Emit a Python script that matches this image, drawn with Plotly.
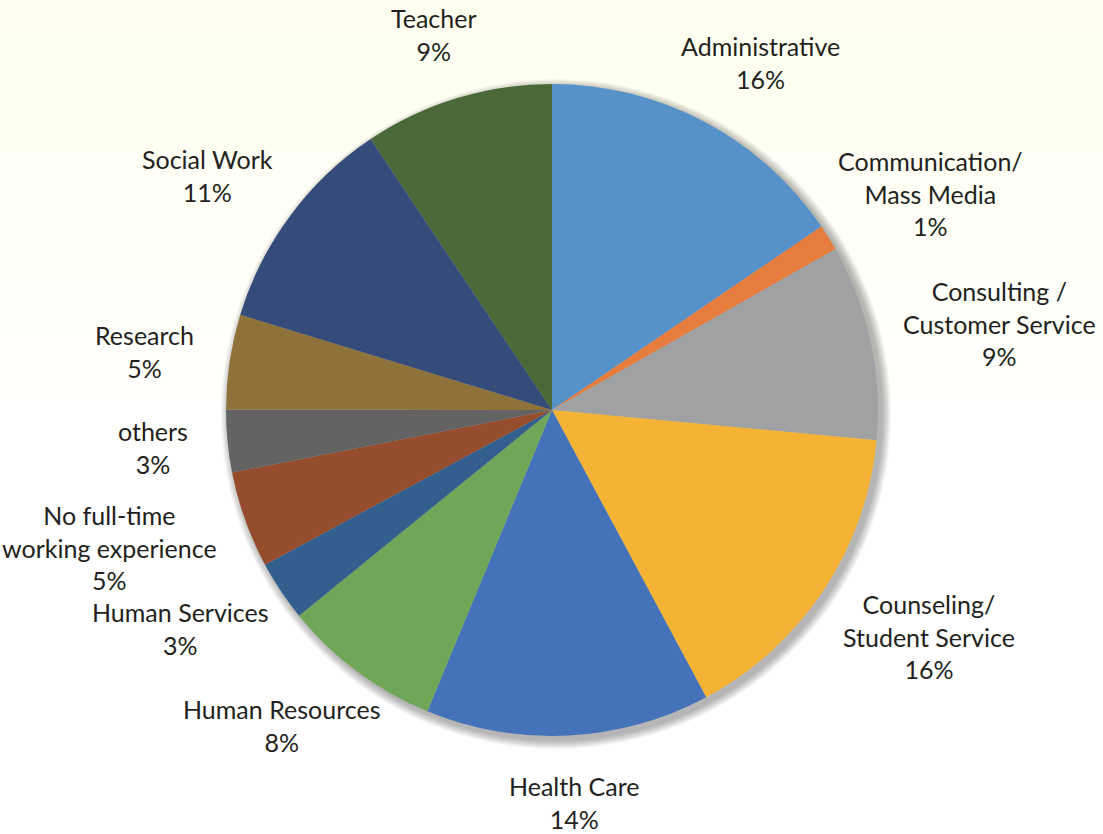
import math
import plotly.graph_objects as go

# ---- data ----
categories = ["Administrative", "Communication/<br>Mass Media", "Consulting /<br>Customer Service",
              "Counseling/<br>Student Service", "Health Care", "Human Resources", "Human Services",
              "No full-time<br>working experience", "others", "Research", "Social Work", "Teacher"]
values = [15.5, 1.3, 9.7, 15.7, 14.1, 7.9, 3.0, 4.8, 3.1, 4.7, 10.9, 9.4]
pct_labels = ["16%", "1%", "9%", "16%", "14%", "8%", "3%", "5%", "3%", "5%", "11%", "9%"]
colors = ["#5692C9", "#E67C3D", "#A0A1A3", "#F5B335", "#4473B9", "#70A658", "#335F8E",
          "#954D2E", "#636363", "#8E7239", "#354B7A", "#4A6838"]

# ---- layout constants ----
W, H = 1103, 834
CX, CY, R = 552, 410, 326
FONT = "Lato"
FS = 25
LINE_H = FS * 1.3

fig = go.Figure()
fig.add_trace(go.Pie(
    labels=[c.replace("<br>", " ") for c in categories],
    values=values,
    sort=False,
    direction="clockwise",
    rotation=0,
    textinfo="none",
    hoverinfo="label+percent",
    marker=dict(colors=colors, line=dict(width=0)),
    domain=dict(x=[(CX - R) / W, (CX + R) / W], y=[(H - CY - R) / H, (H - CY + R) / H]),
    showlegend=False,
))

shapes = []
# background gradient (cream at top fading to white)
steps = 30
for i in range(steps):
    t = i / steps
    g = int(240 + 15 * t)
    y0 = 1 - i * (0.55 / steps)
    y1 = 1 - (i + 1) * (0.55 / steps)
    shapes.append(dict(type="rect", xref="paper", yref="paper", x0=0, x1=1, y0=y1, y1=y0,
                       fillcolor=f"rgb(255,255,{g})", line=dict(width=0), layer="below"))

# soft shadow behind the pie
for k in range(1, 10):
    rr = R + k
    sx, sy = CX + 4, CY + 4
    shapes.append(dict(type="circle", xref="paper", yref="paper",
                       x0=(sx - rr) / W, x1=(sx + rr) / W,
                       y0=(H - sy - rr) / H, y1=(H - sy + rr) / H,
                       fillcolor="rgba(0,0,0,0.035)", line=dict(width=0), layer="below"))

# outside labels computed from slice mid-angles
annotations = []
total = sum(values)
cum = 0.0
GAP = 40
for cat, v, p in zip(categories, values, pct_labels):
    mid = (cum + v / 2) / total * 2 * math.pi
    cum += v
    s, c = math.sin(mid), math.cos(mid)
    lines = cat.split("<br>") + [p]
    w = max(len(l) for l in lines) * FS * 0.46
    h = (len(lines) - 1) * LINE_H + FS * 0.85
    px = CX + s * (R + GAP) + s * w / 2
    py = CY - c * (R + GAP) - c * h / 2
    annotations.append(dict(
        text=cat + "<br>" + p, x=px / W, y=(H - py) / H, xref="paper", yref="paper",
        xanchor="center", yanchor="middle", showarrow=False, align="center",
        font=dict(family=FONT, size=FS, color="#231F20"),
    ))

fig.update_layout(
    width=W, height=H,
    margin=dict(l=0, r=0, t=0, b=0),
    paper_bgcolor="#FFFFFF",
    plot_bgcolor="#FFFFFF",
    shapes=shapes,
    annotations=annotations,
)

fig.write_html("out.html", config={"displayModeBar": False},
               post_script="document.body.style.margin='0';")
